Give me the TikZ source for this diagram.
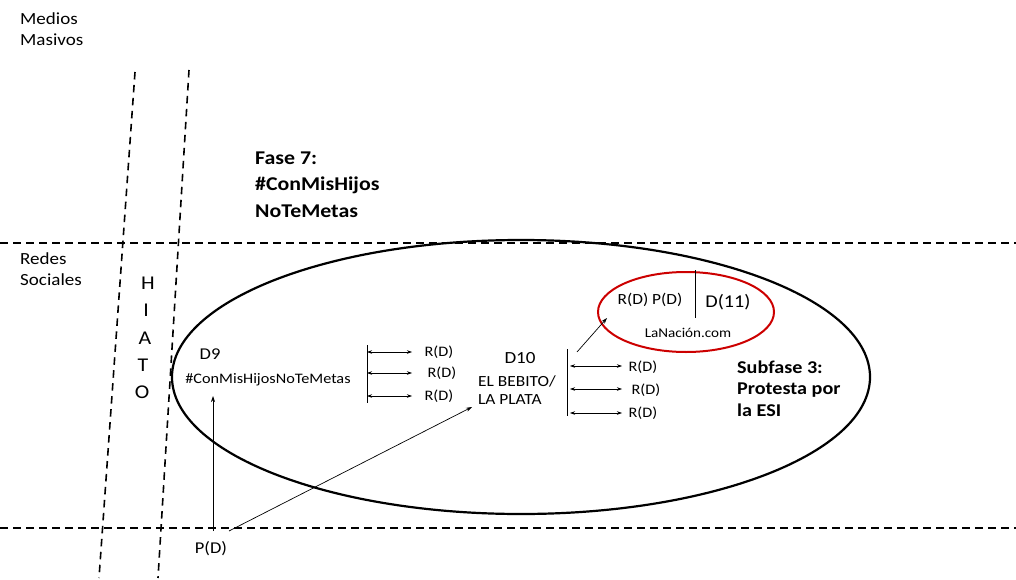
\documentclass[tikz,border=0pt]{standalone}
\usepackage{fontspec}
\setmainfont[FakeStretch=1.12]{Carlito}
\usetikzlibrary{arrows.meta}
\newcommand{\fs}[2]{\fontsize{#1}{#2}\selectfont}
\tikzset{
  sep/.style={dash pattern=on 7.5pt off 5.5pt, line width=1.6pt},
  lbl/.style={inner sep=0pt, font=\fs{14.5}{16}},
  % multi-line blocks are placed by the baseline of their last line
  side/.style={inner sep=0pt, anchor=base west, align=left, font=\fs{17}{21}},
  phase/.style={inner sep=0pt, anchor=base west, align=left, font=\bfseries\fs{19.5}{26.5}},
  rlink/.style={{Stealth[length=5pt,width=3.5pt]}-{Stealth[length=5pt,width=3.5pt]}, line width=0.6pt},
  flow/.style={-{Stealth[length=6pt,width=4pt]}, line width=0.7pt},
  bar/.style={line width=1pt},
  hiato/.style={inner sep=0pt, font=\fs{19.5}{20}},
}
\begin{document}
\begin{tikzpicture}[x=1pt,y=-1pt]
\useasboundingbox (0,0) rectangle (1016,580);

% layer labels
\node[side] (mm) at (20,46) {Medios\\Masivos};
\node[side] (rs) at (20,285) {Redes\\Sociales};

% layer separators
\draw[sep] (0,243) -- (1016,243);
\draw[sep] (0,528) -- (1016,528);
\draw[sep] (135,72) -- (99,578);
\draw[sep] (189,70) -- (158,578);

% gap label
\node[hiato] (h1) at (148,283) {H};
\node[hiato] (h2) at (146,310) {I};
\node[hiato] (h3) at (145,338) {A};
\node[hiato] (h4) at (143,365) {T};
\node[hiato] (h5) at (142,392) {O};

% phase frame
\draw[line width=2.2pt] (521,377) ellipse [x radius=349, y radius=137];
\node[phase] (fase) at (255,217) {Fase 7:\\\#ConMisHijos\\NoTeMetas};
\node[phase, font=\bfseries\fs{18}{21.5}] (sub) at (737,416) {Subfase 3:\\Protesta por\\la ESI};

% D9
\node[lbl, font=\fs{16.5}{18}] (d9) at (210,354) {D9};
\node[lbl] (d9t) at (268,380) {\#ConMisHijosNoTeMetas};
\draw[bar] (367,345) -- (367,403);
\node[lbl] (r1) at (439,352) {R(D)};
\node[lbl] (r2) at (442,373) {R(D)};
\node[lbl] (r3) at (439,396) {R(D)};
\draw[rlink] (367,352) -- (412,352);
\draw[rlink] (367,373) -- (412,373);
\draw[rlink] (367,396) -- (412,396);

% D10
\node[lbl, font=\fs{17}{18}] (d10) at (520,358) {D10};
\node[lbl, anchor=base west, align=left, font=\fs{15.5}{17.5}] (d10t) at (478,404) {EL BEBITO/\\LA PLATA};
\draw[bar] (567,349) -- (567,416);
\node[lbl] (r4) at (643,367) {R(D)};
\node[lbl] (r5) at (646,390) {R(D)};
\node[lbl] (r6) at (643,413) {R(D)};
\draw[rlink] (570,366) -- (622,366);
\draw[rlink] (570,389) -- (622,389);
\draw[rlink] (570,413) -- (622,413);

% D(11) in LaNacion.com
\draw[line width=2pt, red!80!black] (686,312) ellipse [x radius=88, y radius=40];
\node[lbl, font=\fs{15.5}{17}] (rp) at (650,300) {R(D) P(D)};
\draw[line width=1pt] (695,270) -- (695,318);
\node[lbl, font=\fs{18}{20}] (d11) at (728,302) {D(11)};
\node[lbl, font=\fs{13.5}{16}] (ln) at (688,333) {LaNación.com};
\draw[flow] (577,352) -- (607,318);

% source post
\node[lbl, font=\fs{16.5}{18}] (pd) at (211,549) {P(D)};
\draw[flow] (213,531) -- (213,396);
\draw[flow] (229,531) -- (472,407);
\end{tikzpicture}
\end{document}
